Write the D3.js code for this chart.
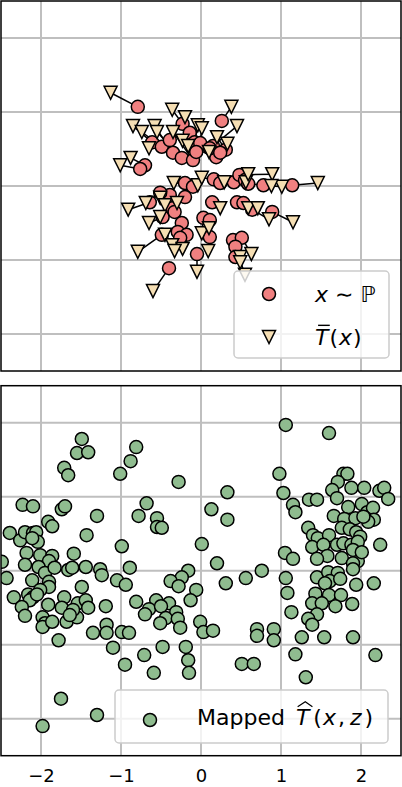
<!DOCTYPE html>
<html lang="en">
<head>
  <meta charset="UTF-8">
  <title>Transport map samples</title>
  <style>
    body { margin: 0; background: #fff; }
    svg { display: block; font-family: "DejaVu Sans", sans-serif; }
    text { white-space: pre; }
  </style>
</head>
<body>
  <script src="https://d3js.org/d3.v7.min.js"></script>
  <script>
    // ticks shared by both panels
    const xTicks = [-2, -1, 0, 1, 2];
    const yTicks = [-2, -1, 0, 1, 2];

    // top panel: samples x ~ P and their image under T-bar
    const pX = [-0.79,-0.23,-0.14,0.26,0.15,-0.61,-0.49,-0.35,-0.24,-0.10,-0.08,-0.01,-0.06,0.19,0.31,0.11,0.24,-0.39,-0.70,-0.76,
      -0.20,-0.10,0.16,0.24,0.41,0.48,0.55,0.78,1.14,0.59,
      -0.39,-0.36,-0.64,-0.51,-0.20,-0.48,-0.33,-0.49,-0.24,-0.29,-0.18,-0.26,-0.05,-0.40,0.03,0.11,0.11,0.14,0.45,0.53,0.64,0.89,0.40,0.51,0.43,0.43];
    const pY = [1.07,0.84,0.72,0.88,0.54,0.59,0.53,0.45,0.38,0.35,0.59,0.58,0.46,0.39,0.49,0.51,0.45,0.62,0.28,0.23,
      0.04,-0.01,0.09,0.04,0.05,0.15,0.08,0.01,0.01,0.03,
      -0.12,-0.30,-0.22,-0.09,-0.15,-0.42,-0.35,-0.66,-0.50,-0.62,-0.66,-0.70,-0.92,-1.11,-0.43,-0.46,-0.69,-0.22,-0.22,-0.23,-0.32,-0.35,-0.73,-0.70,-0.82,-0.96];
    const tX = [-1.13,-0.36,-0.20,0.38,0.45,-0.85,-0.74,-0.58,-0.55,-0.35,-0.04,0.01,-0.23,-0.16,0.20,0.33,0.10,-0.65,-0.88,-1.01,
      -0.34,-0.04,0.01,0.29,0.56,0.89,0.59,1.01,1.46,0.88,
      -0.51,-0.45,-0.91,-0.69,-0.30,-0.65,-0.51,-0.79,-0.45,-0.36,-0.23,-0.33,-0.05,-0.60,0.01,0.10,0.09,0.24,0.59,0.71,0.85,1.15,0.49,0.63,0.55,0.49];
    const tY = [1.26,1.03,0.93,1.07,0.81,0.81,0.73,0.81,0.73,0.73,0.82,0.78,0.61,0.54,0.66,0.57,0.46,0.51,0.38,0.28,
      0.04,0.01,0.11,0.05,0.05,0.16,0.16,-0.01,0.04,0.00,
      -0.16,-0.26,-0.32,-0.23,-0.23,-0.50,-0.42,-0.89,-0.66,-0.80,-0.85,-0.88,-1.16,-1.42,-0.64,-0.57,-0.88,-0.30,-0.30,-0.30,-0.45,-0.49,-0.96,-0.92,-1.20,-1.03];

    // bottom panel: mapped T-hat(x, z)
    const mX = [1.06,1.60,-1.49,-1.55,-1.41,-0.81,-0.88,-1.01,-1.71,-1.66,-0.28,0.98,1.78,1.83,1.71,
      0.33,1.03,1.64,1.88,2.04,2.23,2.29,2.34,1.70,1.35,1.45,1.15,1.18,1.84,2.01,2.08,2.15,2.16,2.09,1.66,1.79,1.93,2.03,-2.23,-2.10,-1.74,-1.70,-0.68,-1.30,-0.78,-0.55,0.13,0.33,
      -0.55,-0.49,-1.91,-1.86,-1.43,1.76,1.86,1.94,1.99,1.34,1.40,1.46,1.60,1.70,1.78,1.88,1.96,2.24,1.39,1.53,-2.39,-2.26,-2.20,-2.10,-2.06,-2.04,-2.11,-2.18,-2.01,-1.86,-1.90,-2.20,-1.59,-0.99,0.01,1.05,1.15,1.58,1.45,1.76,1.96,1.90,1.90,2.01,
      -2.49,-2.03,-1.95,-1.83,-1.66,-1.61,-1.44,-1.26,-1.24,-0.89,-2.43,-2.11,-1.90,-1.90,-2.01,-1.49,-1.05,-0.94,0.20,-0.16,-0.24,-0.38,-0.28,0.31,0.56,0.76,1.06,1.45,1.59,1.71,1.90,1.61,1.55,1.74,1.94,2.16,-0.06,-2.34,-2.16,-2.10,-2.14,-2.05,1.08,1.43,1.60,1.75,
      -1.91,-1.71,-1.74,-1.54,-1.44,-1.41,-1.19,-2.24,-2.20,-1.98,-1.95,-1.98,-1.86,-1.68,-1.55,-1.60,-1.64,-1.35,-1.18,-1.18,-0.99,-0.90,-1.78,-0.81,-0.13,-0.56,-0.40,-0.65,-0.70,-0.50,-0.31,-0.44,-0.29,-0.51,-0.26,-0.01,0.03,0.15,1.39,1.51,1.68,1.89,1.13,1.45,1.34,1.39,0.91,0.91,1.26,1.54,1.90,0.70,0.70,
      -1.10,-0.48,-0.19,-0.16,-0.71,-0.95,0.51,0.66,-0.59,-0.15,1.18,1.31,2.18,-1.75,-1.30,-1.98];
    const mY = [1.97,1.86,1.78,1.59,1.60,1.67,1.48,1.31,1.39,1.29,1.20,1.31,1.31,1.31,1.20,
      1.06,1.05,1.09,1.12,1.12,1.08,1.12,0.97,0.98,0.96,0.96,0.89,0.79,0.86,0.90,0.79,0.85,0.69,0.66,0.74,0.70,0.71,0.73,0.89,0.87,0.83,0.87,0.91,0.74,0.74,0.71,0.83,0.69,
      0.59,0.58,0.66,0.60,0.48,0.58,0.56,0.52,0.46,0.58,0.48,0.44,0.48,0.35,0.37,0.35,0.39,0.35,0.32,0.35,0.51,0.41,0.52,0.51,0.52,0.39,0.44,0.24,0.21,0.20,0.13,0.08,0.23,0.33,0.36,0.24,0.16,0.20,0.16,0.17,0.13,0.10,0.28,0.25,
      0.12,0.05,-0.03,0.04,0.01,0.04,0.05,0.02,-0.06,0.04,-0.10,-0.13,-0.15,-0.22,-0.26,-0.22,-0.13,-0.19,0.10,0.00,-0.09,-0.14,-0.21,-0.17,-0.10,0.00,-0.10,-0.09,-0.02,-0.03,0.02,-0.14,-0.17,-0.11,-0.19,-0.17,-0.26,-0.36,-0.32,-0.36,-0.40,-0.32,-0.30,-0.31,-0.33,-0.33,
      -0.46,-0.36,-0.50,-0.44,-0.40,-0.50,-0.48,-0.49,-0.61,-0.63,-0.71,-0.76,-0.69,-0.69,-0.63,-0.53,-0.60,-0.84,-0.73,-0.84,-0.83,-0.84,-0.94,-0.42,-0.40,-0.40,-0.44,-0.52,-0.59,-0.48,-0.56,-0.64,-0.65,-0.71,-0.77,-0.69,-0.83,-0.81,-0.44,-0.44,-0.48,-0.45,-0.56,-0.59,-0.65,-0.73,-0.79,-0.94,-0.90,-0.90,-0.90,-0.79,-0.88,
      -1.04,-1.03,-1.03,-1.21,-1.14,-1.27,-1.26,-1.26,-1.38,-1.38,-1.13,-1.44,-1.14,-1.73,-1.95,-2.10];

    const W = 402, H = 787;
    const red = "#f08080", wheat = "#f5deb3", green = "#8fbc8f";
    const R = 6.5;
    const tri = s => `M0,${s}L${-s},${-s}L${s},${-s}Z`;

    const svg = d3.select("body").append("svg")
      .attr("width", W).attr("height", H);

    const x = d3.scaleLinear().domain([-2.5, 2.5]).range([1, 401]);
    const yTop = d3.scaleLinear().domain([-2.5, 2.5]).range([371, 1]);
    const yBot = d3.scaleLinear().domain([-2.5, 2.5]).range([755.7, 385.7]);

    function panel(id, y) {
      const [y1, y0] = y.range();
      svg.append("clipPath").attr("id", id)
        .append("rect").attr("x", 1).attr("y", y0).attr("width", 400).attr("height", y1 - y0);
      const g = svg.append("g");
      g.selectAll("line.gx").data(xTicks).join("line")
        .attr("x1", d => x(d)).attr("x2", d => x(d))
        .attr("y1", y0).attr("y2", y1)
        .attr("stroke", "#bfbfbf").attr("stroke-width", 2);
      g.selectAll("line.gy").data(yTicks).join("line")
        .attr("x1", 1).attr("x2", 401)
        .attr("y1", d => y(d)).attr("y2", d => y(d))
        .attr("stroke", "#bfbfbf").attr("stroke-width", 2);
      const plot = svg.append("g").attr("clip-path", `url(#${id})`);
      return { plot, y0, y1 };
    }

    // math-ish text, one piece after another
    function mathText(g, x0, y0, parts, size) {
      let cx = x0;
      parts.forEach(p => {
        const t = g.append("text").attr("x", cx).attr("y", y0)
          .attr("font-size", size)
          .attr("font-style", p.it ? "italic" : "normal")
          .attr("fill", "#000")
          .text(p.t);
        const w = t.node().getComputedTextLength();
        const yGlyph = y0 - size * 0.78;
        if (p.acc === "bar") {
          g.append("line").attr("x1", cx + size * 0.14).attr("x2", cx + w + size * 0.06)
            .attr("y1", yGlyph - 2.5).attr("y2", yGlyph - 2.5)
            .attr("stroke", "#000").attr("stroke-width", 1.4);
        } else if (p.acc === "hat") {
          g.append("path")
            .attr("d", `M${cx + size * 0.08},${yGlyph - 1} L${cx + w / 2 + size * 0.12},${yGlyph - 6} L${cx + w + size * 0.14},${yGlyph - 1}`)
            .attr("fill", "none").attr("stroke", "#000").attr("stroke-width", 1.2);
        }
        cx += w + (p.sp || 0);
      });
    }

    function legendBox(g, x0, y0, w, h) {
      g.append("rect").attr("x", x0).attr("y", y0).attr("width", w).attr("height", h)
        .attr("rx", 4).attr("fill", "#fff").attr("fill-opacity", 0.8)
        .attr("stroke", "#cccccc").attr("stroke-width", 1.5);
    }

    // ---- top panel
    const upper = panel("clipTop", yTop);
    const idx = d3.range(pX.length);
    upper.plot.selectAll("line.link").data(idx).join("line")
      .attr("x1", i => x(pX[i])).attr("y1", i => yTop(pY[i]))
      .attr("x2", i => x(tX[i])).attr("y2", i => yTop(tY[i]))
      .attr("stroke", "#000").attr("stroke-width", 1.5);
    upper.plot.selectAll("circle").data(idx).join("circle")
      .attr("cx", i => x(pX[i])).attr("cy", i => yTop(pY[i])).attr("r", R)
      .attr("fill", red).attr("stroke", "#000").attr("stroke-width", 1.5);
    upper.plot.selectAll("path.tri").data(idx).join("path")
      .attr("transform", i => `translate(${x(tX[i])},${yTop(tY[i])})`)
      .attr("d", tri(R))
      .attr("fill", wheat).attr("stroke", "#000").attr("stroke-width", 1.5);

    const lg1 = svg.append("g");
    legendBox(lg1, 234, 271, 155, 87);
    lg1.append("circle").attr("cx", 269).attr("cy", 294).attr("r", R)
      .attr("fill", red).attr("stroke", "#000").attr("stroke-width", 1.5);
    lg1.append("path").attr("transform", "translate(269,337)").attr("d", tri(R))
      .attr("fill", wheat).attr("stroke", "#000").attr("stroke-width", 1.5);
    mathText(lg1, 315, 302, [{ t: "x", it: true, sp: 7 }, { t: "\u223C", sp: 7 }, { t: "\u2119" }], 22);
    mathText(lg1, 315, 345, [{ t: "T", it: true, acc: "bar", sp: 1 }, { t: "(", sp: 1 }, { t: "x", it: true, sp: 1 }, { t: ")" }], 22);

    svg.append("rect").attr("x", 1).attr("y", 1).attr("width", 400).attr("height", 370)
      .attr("fill", "none").attr("stroke", "#000").attr("stroke-width", 1.5);

    // ---- bottom panel
    const lower = panel("clipBot", yBot);
    lower.plot.selectAll("circle").data(d3.range(mX.length)).join("circle")
      .attr("cx", i => x(mX[i])).attr("cy", i => yBot(mY[i])).attr("r", R)
      .attr("fill", green).attr("stroke", "#000").attr("stroke-width", 1.5);

    const lg2 = svg.append("g");
    legendBox(lg2, 115, 690, 273, 53);
    lg2.append("circle").attr("cx", 150).attr("cy", 720).attr("r", R)
      .attr("fill", green).attr("stroke", "#000").attr("stroke-width", 1.5);
    mathText(lg2, 197, 725, [{ t: "Mapped ", sp: 4 }, { t: "T", it: true, acc: "hat", sp: 4 }, { t: "(", sp: 1 }, { t: "x", it: true, sp: 2 }, { t: ",", sp: 5 }, { t: "z", it: true, sp: 3 }, { t: ")" }], 22);

    svg.append("rect").attr("x", 1).attr("y", 385.7).attr("width", 400).attr("height", 370)
      .attr("fill", "none").attr("stroke", "#000").attr("stroke-width", 1.5);

    // tick labels only, kept just inside the bottom edge
    const ax = svg.append("g").attr("transform", "translate(0,755.7)")
      .call(d3.axisBottom(x).tickValues(xTicks).tickSize(0).tickPadding(13.8)
        .tickFormat(d3.format("d")));
    ax.select(".domain").remove();
    ax.selectAll("text").attr("font-size", 18).attr("font-family", "DejaVu Sans").attr("fill", "#000");
  </script>
</body>
</html>
